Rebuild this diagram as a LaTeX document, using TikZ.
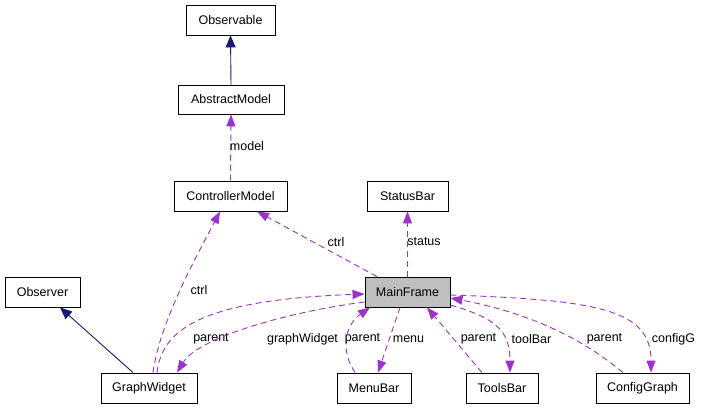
\documentclass[tikz,border=0pt]{standalone}
\usepackage{fontspec}
\setmainfont{Liberation Sans}
\usetikzlibrary{arrows.meta}
\definecolor{dep}{HTML}{9A32CD}
\definecolor{inh}{HTML}{191970}
\tikzset{
  cls/.style={draw=black, line width=0.9pt, minimum height=30pt, inner sep=0pt, font=\fontsize{12.5}{15}\selectfont, anchor=center},
  depline/.style={draw=dep, line width=0.9pt, dash pattern=on 6pt off 4pt, -{Triangle[length=12pt,width=9pt]}, dep},
  inhline/.style={draw=inh, line width=0.9pt, -{Triangle[length=12pt,width=10pt]}, inh},
  lbl/.style={font=\fontsize{12.5}{15}\selectfont, inner sep=0pt, text=black}
}
\begin{document}
\begin{tikzpicture}[x=1pt,y=-1pt]
\useasboundingbox (0,0) rectangle (701,408);
\node[cls, minimum width=89pt] (obs) at (230.5,20) {Observable};
\node[cls, minimum width=106pt, minimum height=29pt] (am) at (231,99.5) {AbstractModel};
\node[cls, minimum width=113pt] (cm) at (230.5,196) {ControllerModel};
\node[cls, minimum width=81pt] (sb) at (407.5,196) {StatusBar};
\node[cls, minimum width=85pt, fill={rgb,255:red,191;green,191;blue,191}] (mf) at (407.5,292) {MainFrame};
\node[cls, minimum width=75pt] (obsr) at (42.5,292) {Observer};
\node[cls, minimum width=96pt] (gw) at (149,388) {GraphWidget};
\node[cls, minimum width=74pt] (mb) at (374,388) {MenuBar};
\node[cls, minimum width=72pt] (tb) at (502,388) {ToolsBar};
\node[cls, minimum width=93pt] (cg) at (642.5,388) {ConfigGraph};

% inheritance
\draw[inhline] (am.north) -- (obs.south);
\draw[inhline] ([xshift=-16pt]gw.north) -- ([xshift=17.5pt]obsr.south);

% dependencies
\draw[depline] (cm.north) -- (am.south);
\node[lbl] (lmodel) at (247,146) {model};

\draw[depline] ([xshift=-30.5pt]mf.north) -- ([xshift=26.5pt]cm.south);
\node[lbl] (lctrl1) at (336,242) {ctrl};

\draw[depline] (mf.north) -- (sb.south);
\node[lbl] (lstatus) at (424,242) {status};

\draw[depline] ([xshift=4pt]gw.north) .. controls (160,320) and (200,250) .. ([xshift=-10.5pt]cm.south);
\node[lbl] (lctrl2) at (199,290) {ctrl};

\draw[depline] ([xshift=8pt]gw.north) .. controls (162,330) and (200,300) .. ([yshift=-2pt]mf.west);
\node[lbl] (lpar1) at (211,339) {parent};

\draw[depline] ([yshift=-10pt]mf.west) .. controls (300,310) and (200,335) .. ([xshift=28pt]gw.north);
\node[lbl] (lgw) at (302.5,339) {graphWidget};

\draw[depline] ([xshift=-19pt]mb.north) .. controls (340,350) and (345,325) .. ([xshift=-37.5pt]mf.south);
\node[lbl] (lpar2) at (362.5,339) {parent};

\draw[depline] ([xshift=-7.5pt]mf.south) -- ([xshift=4pt]mb.north);
\node[lbl] (lmenu) at (408.5,339) {menu};

\draw[depline] ([xshift=-20pt]tb.north) -- ([xshift=19.5pt]mf.south);
\node[lbl] (lpar3) at (478.5,339) {parent};

\draw[depline] ([yshift=-13pt]mf.east) .. controls (495,318) and (510,330) .. ([xshift=8pt]tb.north);
\node[lbl] (ltool) at (531.5,339) {toolBar};

\draw[depline] ([xshift=-19.5pt]cg.north) .. controls (590,345) and (540,315) .. ([yshift=-6pt]mf.east);
\node[lbl] (lpar4) at (604.5,339) {parent};

\draw[depline] ([yshift=-3pt]mf.east) .. controls (600,300) and (651,310) .. ([xshift=8.5pt]cg.north);
\node[lbl] (lcfg) at (673.5,339) {configG};
\end{tikzpicture}
\end{document}
